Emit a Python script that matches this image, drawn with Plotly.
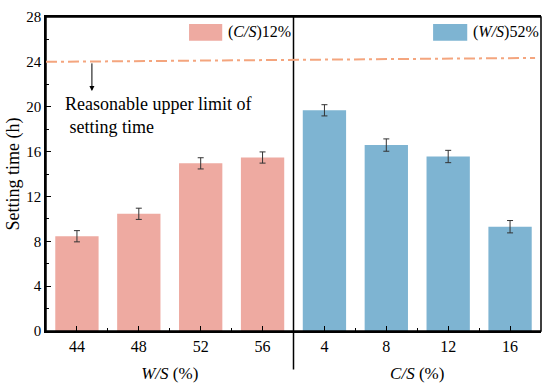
import plotly.graph_objects as go

# ---- data ----
ws_labels = ["44", "48", "52", "56"]
ws_values = [8.45, 10.45, 14.95, 15.47]
ws_errors = [0.5, 0.5, 0.5, 0.5]

cs_labels = ["4", "8", "12", "16"]
cs_values = [19.68, 16.58, 15.56, 9.3]
cs_errors = [0.5, 0.55, 0.55, 0.55]

limit_line = [24.0, 24.35]   # reasonable upper limit (left end, right end)
y_ticks = [0, 4, 8, 12, 16, 20, 24, 28]

FONT = "Liberation Serif"
PINK = "#EEAAA1"
BLUE = "#7EB4D2"

ws_pos = list(range(len(ws_labels)))
cs_pos = list(range(len(cs_labels)))

fig = go.Figure()
fig.add_trace(go.Bar(
    x=ws_pos, y=ws_values, xaxis="x", yaxis="y", width=0.7,
    marker=dict(color=PINK, line=dict(width=0)),
    error_y=dict(type="data", array=ws_errors, color="#333333", thickness=1, width=3),
    showlegend=False, name="(C/S)12%"))
fig.add_trace(go.Bar(
    x=cs_pos, y=cs_values, xaxis="x2", yaxis="y", width=0.7,
    marker=dict(color=BLUE, line=dict(width=0)),
    error_y=dict(type="data", array=cs_errors, color="#333333", thickness=1, width=3),
    showlegend=False, name="(W/S)52%"))

xcommon = dict(range=[-0.5, 3.5], tickmode="array", ticks="inside", ticklen=5,
               tickwidth=1.2, tickcolor="black", showline=True, linecolor="black",
               linewidth=1.5, mirror=True, showgrid=False, zeroline=False,
               tickfont=dict(family=FONT, size=16, color="black"),
               minor=dict(dtick=0.5, tick0=0, ticks="inside", ticklen=3,
                          tickwidth=1.2, tickcolor="black", showgrid=False))

fig.update_layout(
    width=550, height=389,
    margin=dict(l=46, r=9, t=15, b=58),
    plot_bgcolor="white", paper_bgcolor="white",
    font=dict(family=FONT, color="black"),
    bargap=0.3,
    xaxis=dict(**xcommon, domain=[0, 0.5], anchor="y",
               tickvals=ws_pos, ticktext=ws_labels,
               title=dict(text="<i>W/S</i> (%)", standoff=13,
                          font=dict(family=FONT, size=17, color="black"))),
    xaxis2=dict(**xcommon, domain=[0.5, 1], anchor="y",
                tickvals=cs_pos, ticktext=cs_labels,
                title=dict(text="<i>C/S</i> (%)", standoff=13,
                           font=dict(family=FONT, size=17, color="black"))),
    yaxis=dict(range=[0, 28], tickvals=y_ticks, ticks="inside", ticklen=5,
               tickwidth=1.2, tickcolor="black", showline=True, linecolor="black",
               linewidth=1.5, showgrid=False, zeroline=False,
               tickfont=dict(family=FONT, size=15, color="black"),
               minor=dict(dtick=2, tick0=0, ticks="inside", ticklen=3,
                          tickwidth=1.2, tickcolor="black", showgrid=False),
               title=dict(text="Setting time (h)", standoff=2,
                          font=dict(family=FONT, size=18, color="black"))),
)

# frame around the plotting area and divider between panels
fig.add_shape(type="rect", xref="paper", yref="paper", x0=0, x1=1, y0=0, y1=1,
              line=dict(color="black", width=1.5), fillcolor="rgba(0,0,0,0)")
fig.add_shape(type="line", xref="paper", yref="paper", x0=0.5, x1=0.5, y0=-0.123, y1=1,
              line=dict(color="black", width=1.5))

# reasonable upper limit line
fig.add_shape(type="line", xref="paper", yref="y", x0=0, x1=0.988,
              y0=limit_line[0], y1=limit_line[1],
              line=dict(color="#F4A57E", width=2, dash="11px,4px,3px,4px"))

# arrow + label
fig.add_annotation(x=0.242, y=21.4, xref="x", yref="y", ax=0.242, ay=limit_line[0],
                   axref="x", ayref="y", text="", showarrow=True, arrowhead=2,
                   arrowsize=1, arrowwidth=1, arrowcolor="black")
fig.add_annotation(x=0.034, y=0.687, xref="paper", yref="paper", xanchor="left",
                   yanchor="middle", align="left", showarrow=False,
                   text="Reasonable upper limit of<br> setting time",
                   font=dict(family=FONT, size=18, color="black"))

# legends
fig.add_shape(type="rect", xref="paper", yref="paper", x0=0.289, x1=0.356,
              y0=0.924, y1=0.978, fillcolor=PINK, line=dict(width=0))
fig.add_annotation(x=0.364, y=0.951, xref="paper", yref="paper", xanchor="left",
                   yanchor="middle", showarrow=False, text="(<i>C/S</i>)12%",
                   font=dict(family=FONT, size=16, color="black"))
fig.add_shape(type="rect", xref="paper", yref="paper", x0=0.782, x1=0.851,
              y0=0.924, y1=0.978, fillcolor=BLUE, line=dict(width=0))
fig.add_annotation(x=0.859, y=0.951, xref="paper", yref="paper", xanchor="left",
                   yanchor="middle", showarrow=False, text="(<i>W/S</i>)52%",
                   font=dict(family=FONT, size=16, color="black"))

fig.write_html("out.html", config={"displayModeBar": False},
               post_script="document.body.style.margin='0px';")
